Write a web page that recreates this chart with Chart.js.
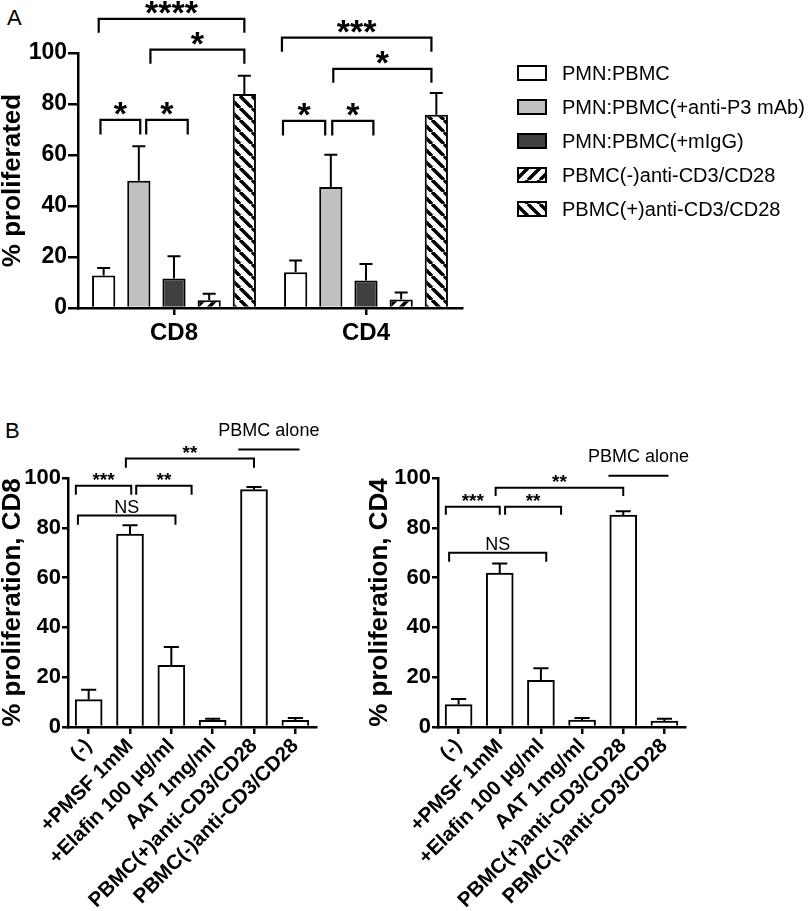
<!DOCTYPE html>
<html>
<head>
<meta charset="utf-8">
<script src="https://cdn.jsdelivr.net/npm/chart.js@4.4.0/dist/chart.umd.min.js"></script>
<style>
  body { margin: 0; background: #fff; width: 810px; height: 911px; position: relative; overflow: hidden; }
  canvas { position: absolute; }
  .panel { position: absolute; font: 22px "Liberation Sans", Arial, sans-serif; line-height: 22px; color: #000; }
</style>
</head>
<body>
<div class="panel" style="left:7px;top:7px">A</div>
<div class="panel" style="left:5px;top:420px">B</div>
<canvas id="chartA" width="810" height="350" style="left:0;top:0"></canvas>
<canvas id="chartCD8" width="400" height="551" style="left:0;top:360px"></canvas>
<canvas id="chartCD4" width="443" height="551" style="left:367px;top:360px"></canvas>
<script>
// panel A data
const groupsA = ["CD8", "CD4"];
const seriesA = ["PMN:PBMC", "PMN:PBMC(+anti-P3 mAb)", "PMN:PBMC(+mIgG)", "PBMC(-)anti-CD3/CD28", "PBMC(+)anti-CD3/CD28"];
const meanA = [[12.7, 14.0], [49.9, 47.5], [11.6, 10.8], [3.0, 3.3], [83.9, 75.8]];
const semA = [[3.0, 4.6], [13.5, 12.6], [8.7, 6.5], [2.6, 2.8], [7.2, 8.5]];

// panel B data
const labelsB = ["(-)", "+PMSF 1mM", "+Elafin 100 µg/ml", "AAT 1mg/ml", "PBMC(+)anti-CD3/CD28", "PBMC(-)anti-CD3/CD28"];
const meanCD8 = [11.0, 77.5, 24.8, 2.7, 95.3, 2.7];
const semCD8 = [4.0, 3.5, 7.3, 0.6, 1.1, 0.9];
const meanCD4 = [9.0, 61.8, 18.7, 2.8, 85.1, 2.4];
const semCD4 = [2.2, 3.9, 4.9, 0.8, 1.5, 0.9];

// significance brackets (x in bar units, y in % units)
const bracketsA = [
  { group: 0, from: -0.14, to: 4.0, y: 113.4, drop: 5.5, text: "****" },
  { group: 0, from: 1.33, to: 4.0, y: 101.3, drop: 5.5, text: "*" },
  { group: 0, from: -0.09, to: 1.04, y: 73.8, drop: 5.8, text: "*" },
  { group: 0, from: 1.21, to: 2.39, y: 73.8, drop: 5.8, text: "*" },
  { group: 1, from: -0.39, to: 3.86, y: 106.0, drop: 5.5, text: "***" },
  { group: 1, from: 1.07, to: 3.86, y: 93.8, drop: 5.5, text: "*" },
  { group: 1, from: -0.36, to: 0.84, y: 73.4, drop: 5.8, text: "*" },
  { group: 1, from: 1.04, to: 2.21, y: 73.4, drop: 5.8, text: "*" }
];
const bracketsCD8 = [
  { from: -0.31, to: 1.03, y: 96.9, drop: 3.6, text: "***" },
  { from: 1.15, to: 2.49, y: 96.9, drop: 3.6, text: "**" },
  { from: -0.26, to: 2.1, y: 84.9, drop: 3.7, text: "NS" },
  { from: 0.9, to: 4.0, y: 107.8, drop: 3.7, text: "**" },
  { from: 3.62, to: 5.1, y: 111.4, drop: 0, text: "PBMC alone" }
];
const bracketsCD4 = [
  { from: -0.31, to: 1.0, y: 88.5, drop: 3.3, text: "***" },
  { from: 1.13, to: 2.49, y: 88.5, drop: 3.3, text: "**" },
  { from: -0.23, to: 2.13, y: 70.0, drop: 3.6, text: "NS" },
  { from: 0.9, to: 4.0, y: 96.1, drop: 3.3, text: "**" },
  { from: 3.64, to: 5.1, y: 100.9, drop: 0, text: "PBMC alone" }
];

const FONT = '"Liberation Sans", Arial, sans-serif';
Chart.defaults.font.family = FONT;
Chart.defaults.color = "#000";

function hatch(dir) {
  const c = document.createElement("canvas");
  c.width = c.height = 12;
  const g = c.getContext("2d");
  g.fillStyle = "#fff";
  g.fillRect(0, 0, 12, 12);
  g.strokeStyle = "#000";
  g.lineWidth = 3.5;
  g.beginPath();
  for (const k of [-12, 0, 12]) {
    if (dir > 0) { g.moveTo(k, 12); g.lineTo(k + 12, 0); }
    else { g.moveTo(k, 0); g.lineTo(k + 12, 12); }
  }
  g.stroke();
  return g.createPattern(c, "repeat");
}
const fillsA = ["#ffffff", "#c0c0c0", "#404040", hatch(1), hatch(-1)];

// error bars (upper only), from dataset.errors
const errorBars = {
  id: "errorBars",
  afterDatasetsDraw(chart) {
    const { ctx } = chart;
    const y = chart.scales.y;
    ctx.save();
    ctx.strokeStyle = "#000";
    ctx.lineWidth = 2;
    chart.data.datasets.forEach((ds, i) => {
      chart.getDatasetMeta(i).data.forEach((bar, j) => {
        const top = y.getPixelForValue(ds.data[j] + ds.errors[j]);
        const cap = bar.width * 0.28;
        ctx.beginPath();
        ctx.moveTo(bar.x, bar.y);
        ctx.lineTo(bar.x, top);
        ctx.moveTo(bar.x - cap, top);
        ctx.lineTo(bar.x + cap, top);
        ctx.stroke();
      });
    });
    ctx.restore();
  }
};

function bracketPlugin(items, xOf, starSize, starLift, textSize, lineW) {
  return {
    id: "brackets",
    afterDraw(chart) {
      const { ctx } = chart;
      const y = chart.scales.y;
      ctx.save();
      ctx.strokeStyle = "#000";
      ctx.fillStyle = "#000";
      ctx.lineWidth = lineW;
      ctx.textAlign = "center";
      items.forEach(b => {
        const x0 = xOf(chart, b, b.from), x1 = xOf(chart, b, b.to);
        const yy = y.getPixelForValue(b.y), yd = y.getPixelForValue(b.y - b.drop);
        ctx.beginPath();
        ctx.moveTo(x0, yd);
        ctx.lineTo(x0, yy);
        ctx.lineTo(x1, yy);
        ctx.lineTo(x1, yd);
        ctx.stroke();
        const xm = (x0 + x1) / 2;
        ctx.textBaseline = "alphabetic";
        if (b.text[0] === "*") {
          ctx.font = "bold " + starSize + "px " + FONT;
          ctx.fillText(b.text, xm, yy - starLift + starSize * 0.45);
        } else {
          ctx.font = textSize + "px " + FONT;
          ctx.fillText(b.text, xm, yy - (b.drop ? 3 : 14));
        }
      });
      ctx.restore();
    }
  };
}

function barAt(chart, group, f) {
  const i0 = Math.max(0, Math.min(3, Math.floor(f)));
  const a = chart.getDatasetMeta(i0).data[group].x;
  const b = chart.getDatasetMeta(i0 + 1).data[group].x;
  return a + (f - i0) * (b - a);
}
function catAt(chart, b, f) {
  const x = chart.scales.x;
  const a = x.getPixelForValue(0), s = x.getPixelForValue(1) - a;
  return a + f * s;
}

const legendA = {
  id: "legendA",
  afterDraw(chart) {
    const { ctx } = chart;
    ctx.save();
    ctx.font = "20px " + FONT;
    ctx.textBaseline = "middle";
    ctx.textAlign = "left";
    ctx.lineWidth = 2;
    ctx.strokeStyle = "#000";
    chart.data.datasets.forEach((ds, i) => {
      const y = 73 + i * 34;
      ctx.fillStyle = ds.backgroundColor;
      ctx.fillRect(518, y - 7, 28, 14);
      ctx.strokeRect(518, y - 7, 28, 14);
      ctx.fillStyle = "#000";
      ctx.fillText(ds.label, 562, y + 1);
    });
    ctx.restore();
  }
};

function axisX(height, fontSize, rotate) {
  return {
    grid: { display: true, drawOnChartArea: false, offset: false, tickLength: 7, color: "#000", lineWidth: 2.5 },
    border: { color: "#000", width: 2.5 },
    ticks: { font: { size: fontSize, weight: "bold" }, color: "#000", padding: rotate ? 0 : 4, autoSkip: false,
             minRotation: rotate ? 45 : 0, maxRotation: rotate ? 45 : 0 },
    afterFit: s => { s.height = height; }
  };
}
function axisY(width, title, tickLen, fontSize, titleSize) {
  return {
    min: 0, max: 100,
    ticks: { stepSize: 20, font: { size: fontSize, weight: "bold" }, color: "#000", padding: 1 },
    grid: { drawOnChartArea: false, tickLength: tickLen, color: "#000", lineWidth: 2.5 },
    border: { color: "#000", width: 2.5 },
    title: { display: true, text: title, font: { size: titleSize, weight: "bold", lineHeight: 1 }, padding: 0, color: "#000" },
    afterFit: s => { s.width = width; }
  };
}

new Chart(document.getElementById("chartA"), {
  type: "bar",
  data: {
    labels: groupsA,
    datasets: seriesA.map((name, i) => ({
      label: name,
      data: meanA[i],
      errors: semA[i],
      backgroundColor: fillsA[i],
      borderColor: "#000",
      borderWidth: 2,
      categoryPercentage: 0.916,
      barPercentage: 0.66
    }))
  },
  options: {
    responsive: false,
    animation: false,
    layout: { padding: { top: 53, right: 348, bottom: 0, left: 0 } },
    plugins: { legend: { display: false }, tooltip: { enabled: false } },
    scales: { x: axisX(42, 24, false), y: axisY(78, "% proliferated", 10, 23, 26) }
  },
  plugins: [errorBars, legendA, bracketPlugin(bracketsA, (c, b, f) => barAt(c, b.group, f), 34, 10, 18, 2.2)]
});

function panelB(id, title, means, sems, brackets, left, right) {
  new Chart(document.getElementById(id), {
    type: "bar",
    data: {
      labels: labelsB,
      datasets: [{
        data: means,
        errors: sems,
        backgroundColor: "#fff",
        borderColor: "#000",
        borderWidth: 2,
        barThickness: 27
      }]
    },
    options: {
      responsive: false,
      animation: false,
      layout: { padding: { top: 118, right: right, bottom: 0, left: 0 } },
      plugins: { legend: { display: false }, tooltip: { enabled: false } },
      scales: { x: axisX(184, 20.5, true), y: axisY(left, title, 6, 22, 26) }
    },
    plugins: [errorBars, bracketPlugin(brackets, catAt, 19, 8, 18, 2)]
  });
}
panelB("chartCD8", "% proliferation, CD8", meanCD8, semCD8, bracketsCD8, 68, 84);
panelB("chartCD4", "% proliferation, CD4", meanCD4, semCD4, bracketsCD4, 71, 125);
</script>
</body>
</html>
